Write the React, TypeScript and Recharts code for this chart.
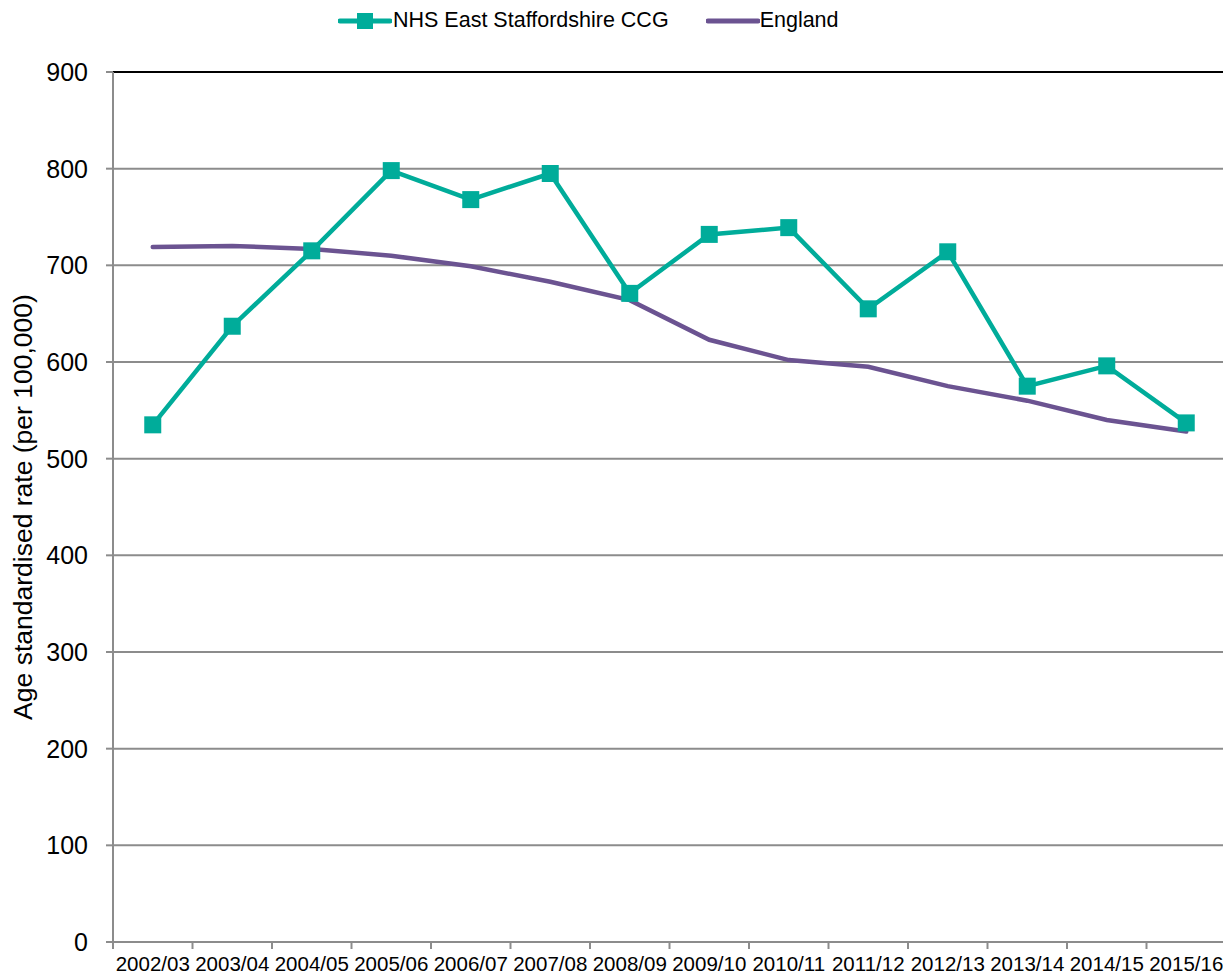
import React from 'react'
import {
  LineChart,
  Line,
  XAxis,
  YAxis,
  CartesianGrid,
  ReferenceLine,
} from 'recharts'

const YEARS = [
  '2002/03', '2003/04', '2004/05', '2005/06', '2006/07', '2007/08', '2008/09',
  '2009/10', '2010/11', '2011/12', '2012/13', '2013/14', '2014/15', '2015/16',
]
const CCG = [535, 637, 715, 798, 768, 795, 671, 732, 739, 655, 714, 575, 596, 537]
const ENGLAND = [719, 720, 717, 710, 699, 683, 664, 623, 602, 595, 575, 560, 540, 528]
const Y_TICKS = [0, 100, 200, 300, 400, 500, 600, 700, 800, 900]

const TEAL = '#00AC9A'
const PURPLE = '#6B5391'
const GRID = '#8C8C8C'
const FONT = '"Liberation Sans", Arial, sans-serif'

// x = category index + 0.5 so points sit in the middle of each band,
// and tick marks land on the band boundaries like the Excel original
const data = YEARS.map((year, i) => ({
  x: i + 0.5,
  year,
  ccg: CCG[i],
  england: ENGLAND[i],
}))
const X_TICKS = YEARS.map((_, i) => i).concat(YEARS.length)

const W = 1231
const H = 980
const MARGIN = { top: 72, right: 5, left: 0, bottom: 0 }
const Y_AXIS_W = 113
const BAND = (W - MARGIN.left - MARGIN.right - Y_AXIS_W) / YEARS.length

function YearTick(props: any) {
  const { x, y, payload } = props
  const label = YEARS[payload.value]
  if (!label) return null
  return (
    <text
      x={x + BAND / 2}
      y={y + 20}
      textAnchor="middle"
      fill="#000"
      style={{ fontFamily: FONT, fontSize: 20.5 }}
    >
      {label}
    </text>
  )
}

function SquareDot(props: any) {
  const { cx, cy } = props
  if (cx == null || cy == null) return null
  return <rect x={cx - 8.5} y={cy - 8.5} width={17} height={17} fill={TEAL} />
}

function Legend() {
  return (
    <div
      style={{
        position: 'absolute',
        top: 8,
        left: 338,
        display: 'flex',
        alignItems: 'center',
        fontFamily: FONT,
        fontSize: 21.5,
        color: '#000',
      }}
    >
      <svg width={54} height={20}>
        <line x1={2} y1={10} x2={52} y2={10} stroke={TEAL} strokeWidth={5} strokeLinecap="round" />
        <rect x={19} y={2} width={16} height={16} fill={TEAL} />
      </svg>
      <span style={{ marginLeft: 1 }}>NHS East Staffordshire CCG</span>
      <svg width={54} height={20} style={{ marginLeft: 37 }}>
        <line x1={2} y1={10} x2={52} y2={10} stroke={PURPLE} strokeWidth={5} strokeLinecap="round" />
      </svg>
      <span style={{ marginLeft: 0 }}>England</span>
    </div>
  )
}

export default function App() {
  return (
    <div style={{ position: 'relative', width: W, height: H, margin: -8, background: '#fff' }}>
      <Legend />
      <LineChart width={W} height={H} data={data} margin={MARGIN}>
        <CartesianGrid vertical={false} stroke={GRID} strokeWidth={2} />

        <XAxis
          type="number"
          dataKey="x"
          domain={[0, YEARS.length]}
          ticks={X_TICKS}
          interval={0}
          height={38}
          tick={<YearTick />}
          tickSize={7}
          stroke={GRID}
          strokeWidth={2}
        />

        <YAxis
          domain={[0, 900]}
          ticks={Y_TICKS}
          interval={0}
          width={Y_AXIS_W}
          tickSize={7}
          tickMargin={18}
          stroke={GRID}
          strokeWidth={2}
          tick={{ fill: '#000', fontSize: 25, fontFamily: FONT }}
          label={{
            value: 'Age standardised rate (per 100,000)',
            angle: -90,
            position: 'center',
            dx: -34,
            style: { fill: '#000', fontSize: 26.5, fontFamily: FONT },
          }}
        />

        <ReferenceLine y={900} stroke="#000" strokeWidth={2} />
        <ReferenceLine x={YEARS.length} stroke="#000" strokeWidth={2} />

        <Line
          type="linear"
          dataKey="england"
          stroke={PURPLE}
          strokeWidth={4.5}
          strokeLinecap="round"
          dot={false}
          isAnimationActive={false}
        />
        <Line
          type="linear"
          dataKey="ccg"
          stroke={TEAL}
          strokeWidth={4.5}
          dot={<SquareDot />}
          activeDot={false}
          isAnimationActive={false}
        />
      </LineChart>
    </div>
  )
}
